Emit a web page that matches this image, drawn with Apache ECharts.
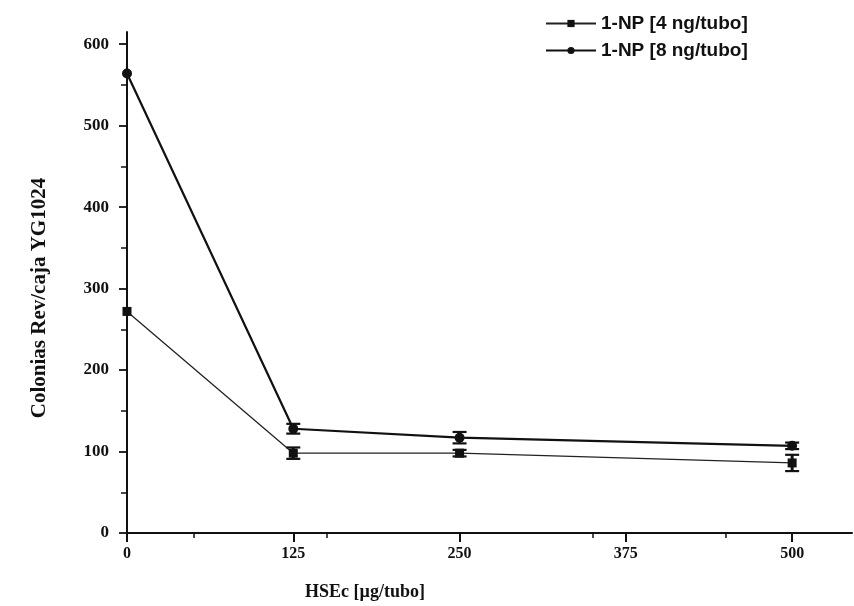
<!DOCTYPE html>
<html>
<head>
<meta charset="utf-8">
<script src="https://cdn.jsdelivr.net/npm/echarts@6/dist/echarts.min.js"></script>
<style>html,body{margin:0;padding:0;background:#fff}#c{width:854px;height:606px}</style>
</head>
<body>
<div id="c"></div>
<script>
// Data read from the (slightly rotated) scanned figure
var doses = [0, 125, 250, 500];
var np4Values = [272, 98, 98, 86];
var np4Errors = [0, 7, 4, 10];
var np8Values = [564, 128, 117, 107];
var np8Errors = [0, 6, 7, 4];
var xTickLabels = [0, 125, 250, 375, 500];
var yTickLabels = [0, 100, 200, 300, 400, 500, 600];
var seriesNames = ['1-NP [4 ng/tubo]', '1-NP [8 ng/tubo]'];
var xAxisTitle = 'HSEc [µg/tubo]';
var yAxisTitle = 'Colonias Rev/caja YG1024';

function pairs(xs, ys) { return xs.map(function (x, i) { return [x, ys[i]]; }); }
function errs(xs, ys, es) { return xs.map(function (x, i) { return [x, ys[i] - es[i], ys[i] + es[i]]; }); }

function errRender(params, api) {
  var x = api.value(0);
  if (api.value(1) === api.value(2)) { return null; }
  var lo = api.coord([x, api.value(1)]);
  var hi = api.coord([x, api.value(2)]);
  var w = 7;
  var st = { stroke: '#111', lineWidth: 2.2 };
  return {
    type: 'group',
    children: [
      { type: 'line', shape: { x1: lo[0], y1: lo[1], x2: hi[0], y2: hi[1] }, style: { stroke: '#111', lineWidth: 3 } },
      { type: 'line', shape: { x1: lo[0] - w, y1: lo[1], x2: lo[0] + w, y2: lo[1] }, style: st },
      { type: 'line', shape: { x1: hi[0] - w, y1: hi[1], x2: hi[0] + w, y2: hi[1] }, style: st }
    ]
  };
}

var chart = echarts.init(document.getElementById('c'), null, { renderer: 'canvas' });
var serif = '"Liberation Serif", "DejaVu Serif", serif';
var sans = '"Liberation Sans", Arial, sans-serif';
chart.setOption({
  animation: false,
  backgroundColor: '#ffffff',
  legend: {
    top: 9,
    left: 540,
    orient: 'vertical',
    itemGap: 8,
    itemWidth: 50,
    itemHeight: 9,
    data: seriesNames,
    textStyle: { fontFamily: sans, fontSize: 19, color: '#111', fontWeight: 'bold' }
  },
  grid: { left: 127, top: 32, width: 725, height: 501, containLabel: false },
  graphic: [
    {
      type: 'text',
      x: 40, y: 298,
      rotation: Math.PI / 2,
      style: { text: yAxisTitle, fontFamily: serif, fontSize: 21, fontWeight: 'bold', fill: '#111', align: 'center', verticalAlign: 'middle' }
    },
    {
      type: 'text',
      x: 365, y: 592,
      style: { text: xAxisTitle, fontFamily: serif, fontSize: 18, fontWeight: 'bold', fill: '#111', align: 'center', verticalAlign: 'middle' }
    }
  ],
  xAxis: {
    type: 'value',
    min: 0,
    max: 545,
    axisLine: { show: true, lineStyle: { color: '#111', width: 2 } },
    axisTick: { show: true, customValues: xTickLabels, length: 9, lineStyle: { color: '#111', width: 2 } },
    minorTick: { show: true, splitNumber: 2, length: 5, lineStyle: { color: '#111', width: 1.5 } },
    axisLabel: { customValues: xTickLabels, margin: 13, fontFamily: serif, fontWeight: 'bold', fontSize: 16, color: '#111' },
    splitLine: { show: false },
    minorSplitLine: { show: false }
  },
  yAxis: {
    type: 'value',
    min: 0,
    max: 615,
    axisLine: { show: true, lineStyle: { color: '#111', width: 2 } },
    axisTick: { show: true, customValues: yTickLabels, length: 8, lineStyle: { color: '#111', width: 1.8 } },
    minorTick: { show: true, splitNumber: 2, length: 6, lineStyle: { color: '#111', width: 1.5 } },
    axisLabel: { customValues: yTickLabels, margin: 18, fontFamily: serif, fontWeight: 'bold', fontSize: 17, color: '#111' },
    splitLine: { show: false },
    minorSplitLine: { show: false }
  },
  series: [
    {
      name: seriesNames[0],
      type: 'line',
      data: pairs(doses, np4Values),
      symbol: 'rect',
      symbolSize: 9,
      lineStyle: { color: '#222', width: 1.3 },
      itemStyle: { color: '#111' },
      z: 3
    },
    {
      name: seriesNames[1],
      type: 'line',
      data: pairs(doses, np8Values),
      symbol: 'circle',
      symbolSize: 10,
      lineStyle: { color: '#111', width: 2.2 },
      itemStyle: { color: '#111' },
      z: 3
    },
    {
      type: 'custom',
      data: errs(doses, np4Values, np4Errors),
      renderItem: errRender,
      z: 4,
      silent: true
    },
    {
      type: 'custom',
      data: errs(doses, np8Values, np8Errors),
      renderItem: errRender,
      z: 4,
      silent: true
    }
  ]
});
</script>
</body>
</html>
